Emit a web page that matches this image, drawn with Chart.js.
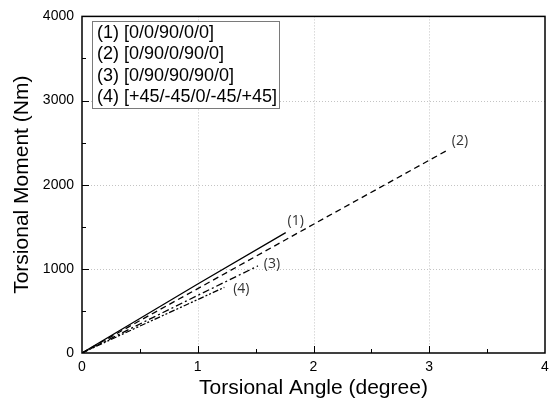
<!DOCTYPE html>
<html>
<head>
<meta charset="utf-8">
<script src="https://cdn.jsdelivr.net/npm/chart.js@4"></script>
<style>
  html, body { margin: 0; padding: 0; background: #fff; overflow: hidden; }
  #wrap { width: 549px; height: 405px; }
</style>
</head>
<body>
<div id="wrap"><canvas id="torsionChart"></canvas></div>
<script>
const seriesNames = ['(1) [0/0/90/0/0]', '(2) [0/90/0/90/0]', '(3) [0/90/90/90/0]', '(4) [+45/-45/0/-45/+45]'];
const seriesTags = ['(1)', '(2)', '(3)', '(4)'];
// torsional angle (degree) and moment (Nm) per layup
const angle1 = [0, 0.5, 1.0, 1.76];
const moment1 = [0, 410, 820, 1430];
const angle2 = [0, 0.5, 1.0, 2.0, 3.17];
const moment2 = [0, 385, 765, 1530, 2420];
const angle3 = [0, 0.5, 1.0, 1.52];
const moment3 = [0, 345, 685, 1035];
const angle4 = [0, 0.5, 1.0, 1.23];
const moment4 = [0, 320, 635, 780];
const xTicks = [0, 1, 2, 3, 4];
const yTicks = [0, 1000, 2000, 3000, 4000];

const dashes = [[], [6, 4], [7, 3, 2, 3], [6, 2, 2, 2, 2, 2]];
const angles = [angle1, angle2, angle3, angle4];
const moments = [moment1, moment2, moment3, moment4];

const datasets = angles.map(function (xs, i) {
    return {
        label: seriesNames[i],
        data: xs.map(function (x, j) { return { x: x, y: moments[i][j] }; }),
        showLine: true,
        borderColor: '#000',
        borderWidth: 1.3,
        borderDash: dashes[i],
        pointRadius: 0,
        tension: 0,
        fill: false
    };
});

// frame, dotted grid, inward ticks, legend box, curve tags
const framePlugin = {
    id: 'frame',
    beforeDatasetsDraw(chart) {
        const ctx = chart.ctx, a = chart.chartArea;
        const xs = chart.scales.x, ys = chart.scales.y;
        ctx.save();
        ctx.strokeStyle = '#c4c4c4';
        ctx.lineWidth = 1;
        ctx.setLineDash([1, 2]);
        xTicks.slice(1, -1).forEach(function (v) {
            const px = Math.round(xs.getPixelForValue(v)) + 0.5;
            ctx.beginPath(); ctx.moveTo(px, a.top); ctx.lineTo(px, a.bottom); ctx.stroke();
        });
        yTicks.slice(1, -1).forEach(function (v) {
            const py = Math.round(ys.getPixelForValue(v)) + 0.5;
            ctx.beginPath(); ctx.moveTo(a.left, py); ctx.lineTo(a.right, py); ctx.stroke();
        });
        ctx.restore();
    },
    afterDatasetsDraw(chart) {
        const ctx = chart.ctx, a = chart.chartArea;
        const xs = chart.scales.x, ys = chart.scales.y;
        ctx.save();
        ctx.strokeStyle = '#000';
        ctx.lineWidth = 1.5;
        ctx.strokeRect(a.left, a.top, a.right - a.left, a.bottom - a.top);
        ctx.lineWidth = 1;
        for (let v = 0.5; v < 4; v += 0.5) {
            const px = Math.round(xs.getPixelForValue(v)) + 0.5;
            const len = (v % 1 === 0) ? 7 : 4;
            ctx.beginPath(); ctx.moveTo(px, a.bottom); ctx.lineTo(px, a.bottom - len); ctx.stroke();
        }
        for (let v = 500; v < 4000; v += 500) {
            const py = Math.round(ys.getPixelForValue(v)) + 0.5;
            const len = (v % 1000 === 0) ? 7 : 4;
            ctx.beginPath(); ctx.moveTo(a.left, py); ctx.lineTo(a.left + len, py); ctx.stroke();
        }

        ctx.fillStyle = '#fff';
        ctx.fillRect(92, 21, 187, 87);
        ctx.strokeStyle = '#7a7a7a';
        ctx.lineWidth = 1;
        ctx.strokeRect(92.5, 21.5, 187, 87);
        ctx.fillStyle = '#000';
        ctx.font = '18px "Liberation Sans", Arial, sans-serif';
        ctx.textBaseline = 'middle';
        ctx.textAlign = 'left';
        seriesNames.forEach(function (n, i) { ctx.fillText(n, 97, 33 + i * 21.3); });

        ctx.fillStyle = '#333';
        ctx.font = '14px "Open Sans", sans-serif';
        ctx.textAlign = 'center';
        const offs = [[10, -12], [11, -8], [14, -2], [17, 2]];
        angles.forEach(function (xsArr, i) {
            const last = xsArr.length - 1;
            const px = xs.getPixelForValue(xsArr[last]) + offs[i][0];
            const py = ys.getPixelForValue(moments[i][last]) + offs[i][1];
            ctx.fillText(seriesTags[i], px, py);
        });
        ctx.restore();
    }
};

const plainTick = function (v) { return String(v); };

new Chart(document.getElementById('torsionChart'), {
    type: 'scatter',
    data: { datasets: datasets },
    options: {
        responsive: true,
        maintainAspectRatio: false,
        animation: false,
        layout: { padding: { top: 10, right: 4, left: 0, bottom: 0 } },
        plugins: { legend: { display: false }, tooltip: { enabled: false } },
        scales: {
            x: {
                type: 'linear', min: 0, max: 4,
                afterFit: function (s) { s.height = 52; s.paddingRight = 0; },
                afterBuildTicks: function (s) { s.ticks = xTicks.map(function (v) { return { value: v }; }); },
                grid: { display: false, drawTicks: false },
                border: { display: false },
                ticks: { color: '#000', padding: 6, callback: plainTick, font: { family: '"Liberation Sans", Arial', size: 14 } },
                title: { display: true, text: 'Torsional Angle (degree)', color: '#000', padding: { top: 0, bottom: 4 },
                         font: { family: '"Liberation Sans", Arial', size: 21 } }
            },
            y: {
                type: 'linear', min: 0, max: 4000,
                afterFit: function (s) { s.width = 82; },
                afterBuildTicks: function (s) { s.ticks = yTicks.map(function (v) { return { value: v }; }); },
                grid: { display: false, drawTicks: false },
                border: { display: false },
                ticks: { color: '#000', padding: 8, callback: plainTick, font: { family: '"Liberation Sans", Arial', size: 14 } },
                title: { display: true, text: 'Torsional Moment (Nm)', color: '#000', padding: { top: 10, bottom: 4 },
                         font: { family: '"Liberation Sans", Arial', size: 21 } }
            }
        }
    },
    plugins: [framePlugin]
});
</script>
</body>
</html>
